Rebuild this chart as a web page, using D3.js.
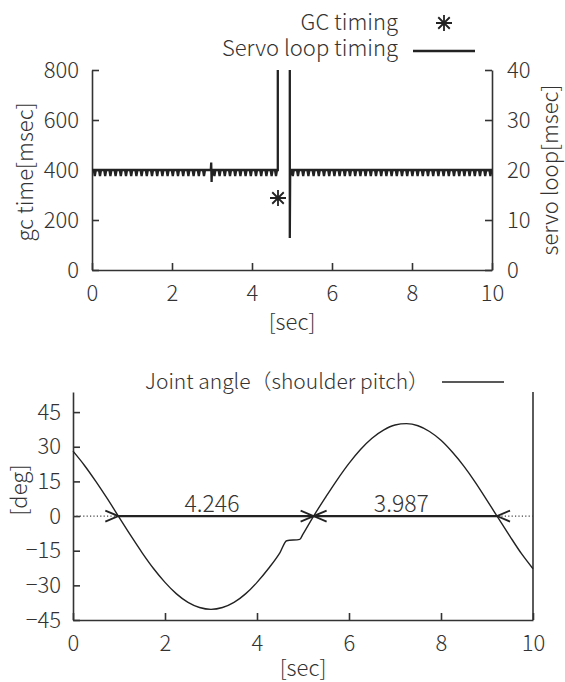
<!DOCTYPE html>
<html>
<head>
<meta charset="utf-8">
<script src="https://cdn.jsdelivr.net/npm/d3@7"></script>
<style>
  body { margin: 0; background: #fff; }
  svg { display: block; font-family: "Noto Sans CJK JP", "Noto Sans", sans-serif; font-weight: 300; }
  .axis text { font-family: "Noto Sans CJK JP", "Noto Sans", sans-serif; font-weight: 300; font-size: 22px; fill: #333; }
  .axis line, .axis path { stroke: #333; stroke-width: 1.6; }
</style>
</head>
<body>
<svg id="chart" width="565" height="682"></svg>
<script>
// ---- data ----
const xTicks = [0, 2, 4, 6, 8, 10];
const gcTicks = [0, 200, 400, 600, 800];
const servoTicks = [0, 10, 20, 30, 40];
const angleTicks = [-45, -30, -15, 0, 15, 30, 45];

// GC timing (sec, msec)
const gcTime = [4.65];
const gcValue = [288];

// servo loop timing outline (sec, msec)
const servoTime = [0, 2.97, 2.98, 2.99, 3.0, 4.645, 4.645, 4.945, 4.945, 4.955, 10];
const servoValue = [20, 20, 21.5, 17.6, 20, 20, 48, 48, 6.4, 20, 20];
// short dips of the servo loop
const servoDipTime = [0.07, 0.20, 0.33, 0.46, 0.59, 0.72, 0.85, 0.98, 1.11, 1.24, 1.37, 1.50,
  1.63, 1.76, 1.89, 2.02, 2.15, 2.28, 2.41, 2.54, 2.67, 2.80, 3.06, 3.19, 3.32, 3.45, 3.58,
  3.71, 3.84, 3.97, 4.10, 4.23, 4.36, 4.49, 4.60,
  5.02, 5.15, 5.28, 5.41, 5.54, 5.67, 5.80, 5.93, 6.06, 6.19, 6.32, 6.45, 6.58, 6.71, 6.84,
  6.97, 7.10, 7.23, 7.36, 7.49, 7.62, 7.75, 7.88, 8.01, 8.14, 8.27, 8.40, 8.53, 8.66, 8.79,
  8.92, 9.05, 9.18, 9.31, 9.44, 9.57, 9.70, 9.83, 9.96];
const servoDipValue = 18.8;

// joint angle (sec, deg)
const angleTime = [0, 0.25, 0.5, 0.75, 1.0, 1.25, 1.5, 1.75, 2.0, 2.25, 2.5, 2.75, 3.0, 3.25,
  3.5, 3.75, 4.0, 4.25, 4.5, 4.645, 4.93, 5.0, 5.231, 5.5, 5.75, 6.0, 6.25, 6.5, 6.75, 7.0,
  7.25, 7.5, 7.75, 8.0, 8.25, 8.5, 8.75, 9.0, 9.25, 9.5, 9.75, 10];
const angleValue = [28.1, 21.9, 14.9, 7.4, -0.5, -8.3, -15.8, -22.7, -28.7, -33.7, -37.4, -39.6,
  -40.4, -39.6, -37.4, -33.7, -28.7, -22.7, -15.8, -10.7, -10.1, -7.8, 0, 8.4, 15.9, 22.8,
  28.8, 33.7, 37.2, 39.4, 40.0, 39.1, 36.6, 32.8, 27.6, 21.5, 14.5, 6.8, -1.0, -8.8, -16.3, -22.8];

// period markers
const periodStart = [0.985, 5.231];
const periodEnd = [5.231, 9.218];
const periodLabel = ["4.246", "3.987"];

const svg = d3.select("#chart");
const ink = "#222";
const textInk = "#333";

// arrow head marker
svg.append("defs").append("marker")
    .attr("id", "open-arrow")
    .attr("viewBox", "-1 -7 15 14")
    .attr("refX", 0).attr("refY", 0)
    .attr("markerWidth", 15).attr("markerHeight", 14)
    .attr("markerUnits", "userSpaceOnUse")
    .attr("orient", "auto-start-reverse")
  .append("path")
    .attr("d", "M13,-5.5L0,0L13,5.5")
    .attr("fill", "none").attr("stroke", ink).attr("stroke-width", 1.8);

function label(x, y, txt, opts = {}) {
  return svg.append("text")
      .attr("transform", opts.rotate ? `translate(${x},${y}) rotate(-90)` : null)
      .attr("x", opts.rotate ? 0 : x).attr("y", opts.rotate ? 0 : y)
      .attr("text-anchor", opts.anchor || "middle")
      .attr("font-size", opts.size || 22)
      .attr("fill", textInk)
      .text(txt);
}

// =============== top chart ===============
const x1 = d3.scaleLinear().domain([0, 10]).range([92, 492]);
const yGc = d3.scaleLinear().domain([0, 800]).range([270, 70]);
const yServo = d3.scaleLinear().domain([0, 40]).range([270, 70]);

svg.append("clipPath").attr("id", "clip-top")
  .append("rect").attr("x", 92).attr("y", 70).attr("width", 400).attr("height", 200);

svg.append("g").attr("class", "axis").attr("transform", "translate(0,270)")
    .call(d3.axisBottom(x1).tickValues(xTicks).tickSize(-7).tickSizeOuter(0).tickPadding(15));
svg.append("g").attr("class", "axis").attr("transform", "translate(92,0)")
    .call(d3.axisLeft(yGc).tickValues(gcTicks).tickSize(-7).tickSizeOuter(0).tickPadding(13));
svg.append("g").attr("class", "axis").attr("transform", "translate(492,0)")
    .call(d3.axisRight(yServo).tickValues(servoTicks).tickSize(-7).tickSizeOuter(0).tickPadding(15));

// servo loop line, dips expanded into small V shapes
const servoPts = servoTime.map((t, i) => ({ t, v: servoValue[i] }));
servoDipTime.forEach(t => {
  servoPts.push({ t: t - 0.025, v: 20 }, { t: t, v: servoDipValue }, { t: t + 0.025, v: 20 });
});
servoPts.sort((a, b) => a.t - b.t);

svg.append("path")
    .datum(servoPts)
    .attr("clip-path", "url(#clip-top)")
    .attr("fill", "none")
    .attr("stroke", ink)
    .attr("stroke-width", 2.3)
    .attr("d", d3.line().x(d => x1(d.t)).y(d => yServo(d.v)));

// star marker (plus + cross)
const starPath = r => `M${-r},0L${r},0M0,${-r}L0,${r}M${-r * 0.72},${-r * 0.72}L${r * 0.72},${r * 0.72}M${-r * 0.72},${r * 0.72}L${r * 0.72},${-r * 0.72}`;
svg.append("g").selectAll("path")
    .data(gcTime)
    .join("path")
    .attr("transform", (d, i) => `translate(${x1(d)},${yGc(gcValue[i])})`)
    .attr("d", starPath(8))
    .attr("stroke", ink).attr("stroke-width", 1.8).attr("fill", "none");

// axis titles
label(292, 330, "[sec]");
label(33, 172, "gc time[msec]", { rotate: true });
label(558, 170, "servo loop[msec]", { rotate: true });

// legend
label(398, 30, "GC timing", { anchor: "end" });
svg.append("path").attr("transform", "translate(444,23)").attr("d", starPath(8))
    .attr("stroke", ink).attr("stroke-width", 1.8).attr("fill", "none");
label(398, 56, "Servo loop timing", { anchor: "end" });
svg.append("line").attr("x1", 413).attr("x2", 475).attr("y1", 51).attr("y2", 51)
    .attr("stroke", ink).attr("stroke-width", 2.3);

// =============== bottom chart ===============
const x2 = d3.scaleLinear().domain([0, 10]).range([73, 533]);
const yAng = d3.scaleLinear().domain([-45, 53.7]).range([620, 392]);

svg.append("g").attr("class", "axis").attr("transform", "translate(0,620)")
    .call(d3.axisBottom(x2).tickValues(xTicks).tickSize(-7).tickSizeOuter(0).tickPadding(15));
svg.append("g").attr("class", "axis").attr("transform", "translate(73,0)")
    .call(d3.axisLeft(yAng).tickValues(angleTicks).tickSize(-7).tickSizeOuter(0).tickPadding(12));
svg.append("line").attr("x1", 533).attr("x2", 533).attr("y1", 392).attr("y2", 620)
    .attr("stroke", "#333").attr("stroke-width", 1.6);

// zero line
svg.append("line").attr("x1", x2(0)).attr("x2", x2(10)).attr("y1", yAng(0)).attr("y2", yAng(0))
    .attr("stroke", "#444").attr("stroke-width", 1.2).attr("stroke-dasharray", "1.2,2.2");

// joint angle curve
svg.append("path")
    .datum(angleTime.map((t, i) => ({ t, v: angleValue[i] })))
    .attr("fill", "none")
    .attr("stroke", ink)
    .attr("stroke-width", 1.4)
    .attr("d", d3.line().x(d => x2(d.t)).y(d => yAng(d.v)).curve(d3.curveMonotoneX));

// period arrows
const periods = periodStart.map((s, i) => ({ s, e: periodEnd[i], label: periodLabel[i] }));
svg.append("g").selectAll("line")
    .data(periods)
    .join("line")
    .attr("x1", d => x2(d.s)).attr("x2", d => x2(d.e))
    .attr("y1", yAng(0)).attr("y2", yAng(0))
    .attr("stroke", ink).attr("stroke-width", 2.2)
    .attr("marker-start", "url(#open-arrow)")
    .attr("marker-end", "url(#open-arrow)");
svg.append("g").selectAll("text")
    .data(periods)
    .join("text")
    .attr("x", d => (x2(d.s) + x2(d.e)) / 2 - 4)
    .attr("y", yAng(0) - 4)
    .attr("text-anchor", "middle")
    .attr("font-size", 23).attr("fill", textInk)
    .text(d => d.label);

label(303, 676, "[sec]");
label(27, 490, "[deg]", { rotate: true });

// legend
label(429, 389, "Joint angle（shoulder pitch）", { anchor: "end", size: 21 });
svg.append("line").attr("x1", 442).attr("x2", 504).attr("y1", 382).attr("y2", 382)
    .attr("stroke", ink).attr("stroke-width", 1.4);
</script>
</body>
</html>
